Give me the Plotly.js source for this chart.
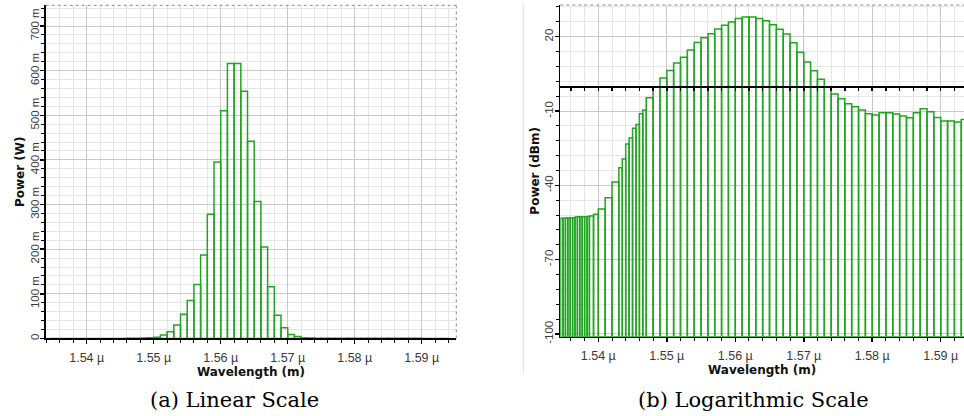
<!DOCTYPE html>
<html><head><meta charset="utf-8">
<script src="https://cdn.plot.ly/plotly-3.0.1.min.js"></script>
<style>html,body{margin:0;padding:0;background:#fff;overflow:hidden}#chart{width:964px;height:416px}</style>
</head><body><div id="chart"></div>
<script>
// ---- data (wavelength bins in nm, shared by both panels) ----
const binEdgesNm = [1534.5, 1534.85, 1535.2, 1535.55, 1535.9, 1536.25, 1536.6, 1536.95, 1537.3, 1537.65, 1538.0, 1538.35, 1538.7,
  1539.3, 1540, 1541, 1542, 1543, 1543.5, 1544, 1544.5, 1545, 1545.5, 1546, 1546.5, 1547, 1548,
  1549, 1550, 1551, 1552, 1553, 1554, 1555, 1556, 1557, 1558, 1559, 1560, 1561, 1562, 1563, 1564, 1565,
  1566, 1567, 1568, 1569, 1570, 1571, 1572, 1573, 1574, 1575, 1576, 1577, 1578, 1579, 1580, 1581, 1582,
  1583, 1584, 1585, 1586, 1587, 1588, 1589, 1590, 1591, 1592, 1593, 1594];
// (a) linear scale, W
const powerW = [0.00001, 0.00001, 0.00001, 0.00001, 0.00001, 0.00001, 0.00001, 0.00001, 0.00001, 0.00001, 0.00001, 0.00001,
  0.00001, 0.00001, 0.00001, 0.00001, 0.00001, 0.00001, 0.00001, 0.00001, 0.00001, 0.00002, 0.00003, 0.00008, 0.0001, 0.0003, 0.0008,
  0.0015, 0.0025, 0.0075, 0.015, 0.030, 0.054, 0.085, 0.121, 0.187, 0.278, 0.395, 0.510, 0.616, 0.616, 0.554, 0.442, 0.307,
  0.205, 0.116, 0.052, 0.024, 0.009, 0.004, 0.0015, 0.0008, 0.0005, 0.0003, 0.0002, 0.00015, 0.0001, 0.0001, 0.0001, 0.0001, 0.0001,
  0.0001, 0.0001, 0.0001, 0.0001, 0.0001, 0.0001, 0.0001, 0.00005, 0.00005, 0.00005, 0.00005];
// (b) logarithmic scale, dBm
const powerDbm = [-53.3, -53.3, -53.2, -53.2, -53.2, -53.1, -52.8, -52.7, -52.7, -52.7, -52.7, -52.6,
  -52.4, -51.7, -49.6, -45.0, -38.7, -32.9, -29.4, -23.3, -20.9, -17.0, -15.4, -11.1, -9.6, -4.6, -0.2,
  3.3, 6.4, 9.4, 11.7, 14.6, 17.7, 19.6, 21.2, 23.1, 24.6, 25.9, 27.4, 28.0, 28.0, 27.4, 26.4, 24.8,
  23.0, 21.1, 17.6, 13.7, 9.8, 6.3, 2.8, -0.2, -3.1, -5.0, -7.1, -8.3, -9.6, -11.1, -11.6, -10.7, -10.7,
  -11.2, -12.0, -12.7, -10.7, -9.1, -10.3, -12.6, -14.0, -14.0, -14.4, -13.4];

const xTickVals = [1540, 1550, 1560, 1570, 1580, 1590];
const xTickText = ["1.54 µ", "1.55 µ", "1.56 µ", "1.57 µ", "1.58 µ", "1.59 µ"];
const yLinTickVals = [0, 0.1, 0.2, 0.3, 0.4, 0.5, 0.6, 0.7];
const yLinTickText = ["0", "100 m", "200 m", "300 m", "400 m", "500 m", "600 m", "700 m"];
const yLogTickVals = [-100, -70, -40, -10, 20];
const yLogTickText = ["-100", "-70", "-40", "-10", "20"];
const xTitleText = "Wavelength (m)";
const yLinTitleText = "Power (W)";
const yLogTitleText = "Power (dBm)";
const captions = ["(a) Linear Scale", "(b) Logarithmic Scale"];

// ---- geometry / style ----
const W = 964, H = 416;
const GREEN = "rgb(34,165,34)";
const P1 = {l: 45.7, r: 456.3, t: 5.3, b: 338.4};
const P2 = {l: 560.3, r: 964, t: 5, b: 336.7};
const X1RANGE = [1533.88, 1595.16], Y1RANGE = [0, 0.7464];
const X2RANGE = [1534.45, 1593.4], Y2RANGE = [-101.1, 32.8];
const DB_FLOOR = Y2RANGE[0];

const centers = [], widths = [];
for (let i = 0; i < binEdgesNm.length - 1; i++) {
  centers.push((binEdgesNm[i] + binEdgesNm[i + 1]) / 2);
  widths.push(binEdgesNm[i + 1] - binEdgesNm[i]);
}
const dom = (a, b, n) => [a / n, b / n];
const ydom = (t, b) => [(H - b) / H, (H - t) / H];

const xTickFont = {family: "Liberation Sans, Arial, sans-serif", size: 12.5, color: "#3a3a3a"};
const yTickFont = {family: "Liberation Sans, Arial, sans-serif", size: 11.5, color: "#3a3a3a"};
const titleFont = {family: "DejaVu Sans, Verdana, sans-serif", size: 12, color: "#111"};

function xAxis(domain, range, anchor) {
  return {
    domain, range, anchor, tickmode: "array", tickvals: xTickVals, ticktext: xTickText,
    ticks: "outside", ticklen: 4, tickwidth: 1.5, tickcolor: "#000",
    showline: true, linecolor: "#000", linewidth: 1.5, zeroline: false,
    showgrid: true, gridcolor: "#c9c9c9", gridwidth: 1,
    minor: {tickmode: "linear", tick0: 1540, dtick: 2, ticks: "outside", ticklen: 3, tickcolor: "#000", tickwidth: 1,
            showgrid: true, gridcolor: "#e6e6e6", gridwidth: 1},
    tickfont: xTickFont, ticklabelstandoff: 3,
    title: {text: "<b>" + xTitleText + "</b>", font: titleFont, standoff: 2},
    fixedrange: true
  };
}
function yAxis(domain, range, anchor, vals, text, minor, title) {
  return {
    domain, range, anchor, tickmode: "array", tickvals: vals, ticktext: text, tickangle: -90,
    ticks: "outside", ticklen: 4, tickwidth: 1.5, tickcolor: "#000",
    showline: true, linecolor: "#000", linewidth: 1.5, zeroline: false,
    showgrid: true, gridcolor: "#c9c9c9", gridwidth: 1,
    minor: Object.assign({tickmode: "linear", ticks: "outside", ticklen: 3, tickcolor: "#000", tickwidth: 1,
            showgrid: true, gridcolor: "#e6e6e6", gridwidth: 1}, minor),
    tickfont: yTickFont, ticklabelstandoff: -3,
    title: {text: "<b>" + title + "</b>", font: titleFont, standoff: 1},
    fixedrange: true
  };
}

const traces = [
  {type: "bar", x: centers, y: powerW, width: widths, xaxis: "x", yaxis: "y",
   marker: {color: "rgba(0,0,0,0)", line: {color: GREEN, width: 1.5}}, hoverinfo: "skip", showlegend: false},
  {type: "bar", x: centers, y: powerDbm.map(v => v - DB_FLOOR), base: DB_FLOOR, width: widths, xaxis: "x2", yaxis: "y2",
   marker: {color: "rgba(0,0,0,0)", line: {color: GREEN, width: 1.5}}, hoverinfo: "skip", showlegend: false},
  {type: "scatter", mode: "markers", x: centers, y: powerDbm, xaxis: "x3", yaxis: "y2",
   marker: {opacity: 0}, hoverinfo: "skip", showlegend: false}
];

const y2dom = ydom(P2.t, P2.b);
const zeroPos = y2dom[0] + (0 - Y2RANGE[0]) / (Y2RANGE[1] - Y2RANGE[0]) * (y2dom[1] - y2dom[0]);

const layout = {
  width: W, height: H, margin: {l: 0, r: 0, t: 0, b: 0},
  paper_bgcolor: "#fff", plot_bgcolor: "#fff", showlegend: false, barmode: "overlay",
  xaxis: xAxis(dom(P1.l, P1.r, W), X1RANGE, "y"),
  yaxis: yAxis(ydom(P1.t, P1.b), Y1RANGE, "x", yLinTickVals, yLinTickText, {tick0: 0, dtick: 0.02}, yLinTitleText),
  xaxis2: xAxis(dom(P2.l, P2.r, W), X2RANGE, "y2"),
  yaxis2: yAxis(y2dom, Y2RANGE, "x2", yLogTickVals, yLogTickText, {tick0: -100, dtick: 6}, yLogTitleText),
  xaxis3: {overlaying: "x2", anchor: "free", position: zeroPos, range: X2RANGE, tickmode: "array", tickvals: xTickVals,
    showticklabels: false, ticks: "outside", ticklen: 3, tickwidth: 1.5, tickcolor: "#000",
    showline: true, linecolor: "#000", linewidth: 1.5, showgrid: false, zeroline: false,
    minor: {tickmode: "linear", tick0: 1540, dtick: 2, ticks: "outside", ticklen: 3, tickcolor: "#000", showgrid: false},
    fixedrange: true},
  shapes: [
    {type: "line", xref: "x domain", yref: "y domain", x0: 0, x1: 1, y0: 1, y1: 1, line: {color: "#8a8a8a", width: 1, dash: "dot"}},
    {type: "line", xref: "x domain", yref: "y domain", x0: 1, x1: 1, y0: 0, y1: 1, line: {color: "#8a8a8a", width: 1, dash: "dot"}},
    {type: "line", xref: "x2 domain", yref: "y2 domain", x0: 0, x1: 1, y0: 1, y1: 1, line: {color: "#8a8a8a", width: 1, dash: "dot"}},
    {type: "line", xref: "paper", yref: "paper", x0: 523.3 / W, x1: 523.3 / W, y0: (H - 373) / H, y1: (H - 4) / H,
     line: {color: "#dcdcdc", width: 1}}
  ],
  annotations: [
    {text: captions[0], xref: "paper", yref: "paper", x: 234 / W, y: (H - 400) / H, xanchor: "center", yanchor: "middle",
     showarrow: false, font: {family: "DejaVu Serif, serif", size: 21, color: "#000"}},
    {text: captions[1], xref: "paper", yref: "paper", x: 753 / W, y: (H - 400) / H, xanchor: "center", yanchor: "middle",
     showarrow: false, font: {family: "DejaVu Serif, serif", size: 21, color: "#000"}}
  ]
};

Plotly.newPlot("chart", traces, layout, {staticPlot: true, displayModeBar: false});
</script>
</body></html>
